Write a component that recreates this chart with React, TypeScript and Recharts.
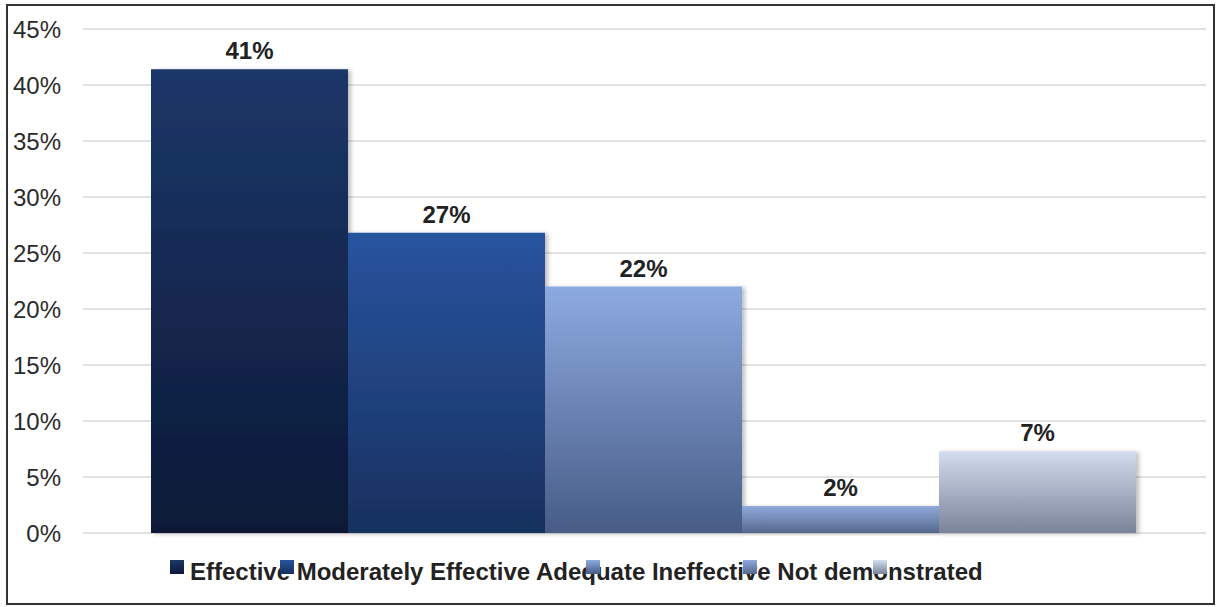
import { BarChart, Bar, XAxis, YAxis, CartesianGrid, LabelList } from "recharts";

const FONT = '"Liberation Sans", Arial, Helvetica, sans-serif';

// Rating categories, one bar each
const SERIES = ["Effective", "Moderately Effective", "Adequate", "Ineffective", "Not demonstrated"];
const VALUES = [41.4, 26.8, 22.0, 2.4, 7.3];
const Y_TICKS = [0, 5, 10, 15, 20, 25, 30, 35, 40, 45];

// gradient stops per bar: [top, bottom]
const GRADIENTS = [
  ["#1c3769", "#0c1936"],
  ["#28549f", "#18305e"],
  ["#8daae0", "#475c86"],
  ["#90aadd", "#56688c"],
  ["#d3ddef", "#7a8398"],
];

// legend icon x offsets (the labels run on as a single line)
const LEGEND_ICON_X = [170, 280, 586, 743, 873];

const row: Record<string, number | string> = { name: "" };
SERIES.forEach((s, i) => {
  row[s] = VALUES[i];
});
const data = [row];

const pct = (v: any) => `${Math.round(Number(v))}%`;

export default function App() {
  return (
    <div style={{ position: "fixed", left: 0, top: 0, width: 1216, height: 607, background: "#fff" }}>
      <div
        style={{
          position: "absolute",
          left: 6,
          top: 4,
          width: 1205,
          height: 597,
          border: "2px solid #333",
          boxSizing: "content-box",
        }}
      />
      <div style={{ position: "absolute", left: 0, top: 0 }}>
        <BarChart
          width={1216}
          height={607}
          data={data}
          margin={{ top: 29, right: 10, bottom: 74, left: 0 }}
          barGap={0}
          barCategoryGap={68}
        >
          <defs>
            {GRADIENTS.map((g, i) => (
              <linearGradient key={i} id={`grad${i}`} x1="0" y1="0" x2="0" y2="1">
                <stop offset="0%" stopColor={g[0]} />
                <stop offset="100%" stopColor={g[1]} />
              </linearGradient>
            ))}
            <filter id="barShadow" x="-5%" y="-5%" width="115%" height="115%">
              <feDropShadow dx="3" dy="1" stdDeviation="2" floodColor="#000" floodOpacity="0.25" />
            </filter>
          </defs>
          <CartesianGrid vertical={false} stroke="#d9d9d9" strokeWidth={1.5} />
          <XAxis dataKey="name" hide />
          <YAxis
            width={83}
            domain={[0, 45]}
            ticks={Y_TICKS}
            tickFormatter={(v) => `${v}%`}
            axisLine={false}
            tickLine={false}
            tickMargin={16}
            tick={{ fontSize: 24, fill: "#2b2b2b", fontFamily: FONT }}
          />
          {SERIES.map((s, i) => (
            <Bar
              key={s}
              dataKey={s}
              fill={`url(#grad${i})`}
              filter="url(#barShadow)"
              isAnimationActive={false}
            >
              <LabelList
                dataKey={s}
                position="top"
                offset={10}
                formatter={pct}
                style={{ fontSize: 24, fontWeight: "bold", fill: "#222", fontFamily: FONT }}
              />
            </Bar>
          ))}
        </BarChart>
      </div>
      <svg
        width={1216}
        height={607}
        style={{ position: "absolute", left: 0, top: 0, pointerEvents: "none" }}
      >
        <defs>
          {GRADIENTS.map((g, i) => (
            <linearGradient key={i} id={`lgrad${i}`} x1="0" y1="0" x2="0" y2="1">
              <stop offset="0%" stopColor={g[0]} />
              <stop offset="100%" stopColor={g[1]} />
            </linearGradient>
          ))}
        </defs>
        <text x={190} y={580} fontSize={24} fontWeight="bold" fill="#222" fontFamily={FONT}>
          {SERIES.join(" ")}
        </text>
        {SERIES.map((s, i) => (
          <rect key={s} x={LEGEND_ICON_X[i]} y={560} width={14} height={14} fill={`url(#lgrad${i})`} />
        ))}
      </svg>
    </div>
  );
}
